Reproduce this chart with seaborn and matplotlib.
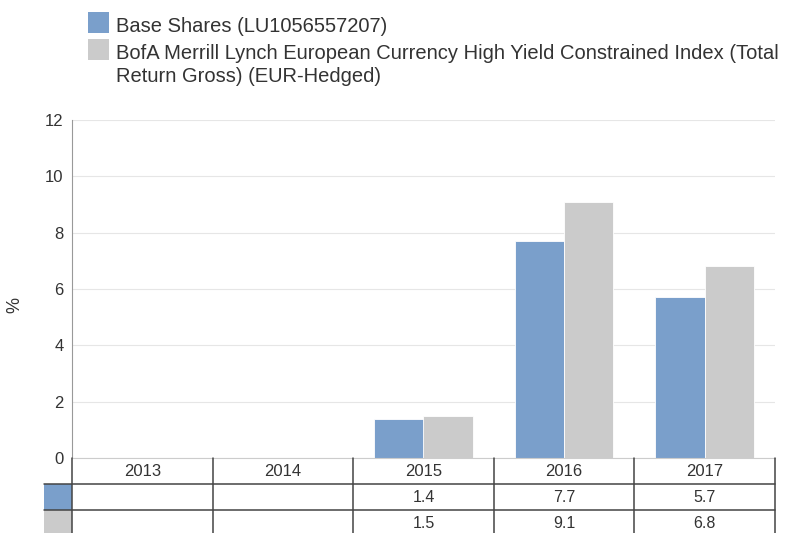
import pandas as pd
import matplotlib.pyplot as plt
import seaborn as sns
from matplotlib.patches import Rectangle

years = ["2013", "2014", "2015", "2016", "2017"]
base_shares = [None, None, 1.4, 7.7, 5.7]
index_values = [None, None, 1.5, 9.1, 6.8]
series_names = ["Base Shares (LU1056557207)",
                "BofA Merrill Lynch European Currency High Yield Constrained Index (Total\nReturn Gross) (EUR-Hedged)"]
colors = ["#7a9fcb", "#cbcbcb"]
yticks = [0, 2, 4, 6, 8, 10, 12]

rows = []
for y, a, b in zip(years, base_shares, index_values):
    rows.append({"year": y, "series": series_names[0], "value": a})
    rows.append({"year": y, "series": series_names[1], "value": b})
df = pd.DataFrame(rows)

sns.set_style("white")
plt.rcParams["font.family"] = ["Liberation Sans", "DejaVu Sans"]
txt = "#333333"

fig = plt.figure(figsize=(7.98, 5.33), dpi=100)
W, H = 798, 533
L, R, T, B = 72, 775, 120, 458
ax = fig.add_axes([L / W, 1 - B / H, (R - L) / W, (B - T) / H])
sns.barplot(data=df.dropna(), x="year", y="value", hue="series", order=years,
            hue_order=series_names, palette=colors, saturation=1, width=0.7, gap=0,
            edgecolor="white", linewidth=0.6, legend=False, ax=ax)
ax.set_xlim(-0.5, 4.5)
ax.set_ylim(0, 12)
ax.set_yticks(yticks)
ax.set_yticklabels([str(v) for v in yticks], fontsize=12, color=txt)
ax.tick_params(axis="y", length=0, pad=6)
ax.set_xticks([])
ax.set_xlabel("")
ax.set_ylabel("")
ax.grid(axis="y", color="#e6e6e6", linewidth=0.8)
ax.set_axisbelow(True)
for s in ["top", "right"]:
    ax.spines[s].set_visible(False)
ax.spines["left"].set_color("#999999")
ax.spines["bottom"].set_color("#cccccc")
fig.text(15 / W, 1 - 305 / H, "%", rotation=90, ha="center", va="center", fontsize=13, color=txt)

# data table under the chart
tb = 536
tax = fig.add_axes([L / W, 1 - tb / H, (R - L) / W, (tb - B) / H])
tax.set_xlim(-0.5, 4.5)
tax.set_ylim(3, 0)
tax.axis("off")
lc = "#444444"
for i in range(len(years) + 1):
    tax.plot([i - 0.5, i - 0.5], [0, 3], color=lc, linewidth=1.1, clip_on=False)
sw = (L - 44) / ((R - L) / 5)
for j in [1, 2, 3]:
    tax.plot([-0.5 - sw, 4.5], [j, j], color=lc, linewidth=1.1, clip_on=False)
for j, c in enumerate(colors):
    tax.add_patch(Rectangle((-0.5 - sw, j + 1), sw, 1, facecolor=c, edgecolor="none", clip_on=False))
for i, y in enumerate(years):
    tax.text(i, 0.5, y, ha="center", va="center", fontsize=12, color=txt)
    for j, vals in enumerate([base_shares, index_values]):
        if vals[i] is not None:
            tax.text(i, j + 1.5, f"{vals[i]:.1f}", ha="center", va="center", fontsize=11.5, color=txt)

# legend at the top
for k, (name, c) in enumerate(zip(series_names, colors)):
    top = 12 + 27 * k
    fig.patches.append(Rectangle((88 / W, 1 - (top + 21) / H), 21 / W, 21 / H,
                                 facecolor=c, edgecolor="none", transform=fig.transFigure))
    fig.text(116 / W, 1 - (top + 5) / H, name, ha="left", va="top", fontsize=14.5,
             color=txt, linespacing=1.25)

fig.savefig("out.png", dpi=100)
